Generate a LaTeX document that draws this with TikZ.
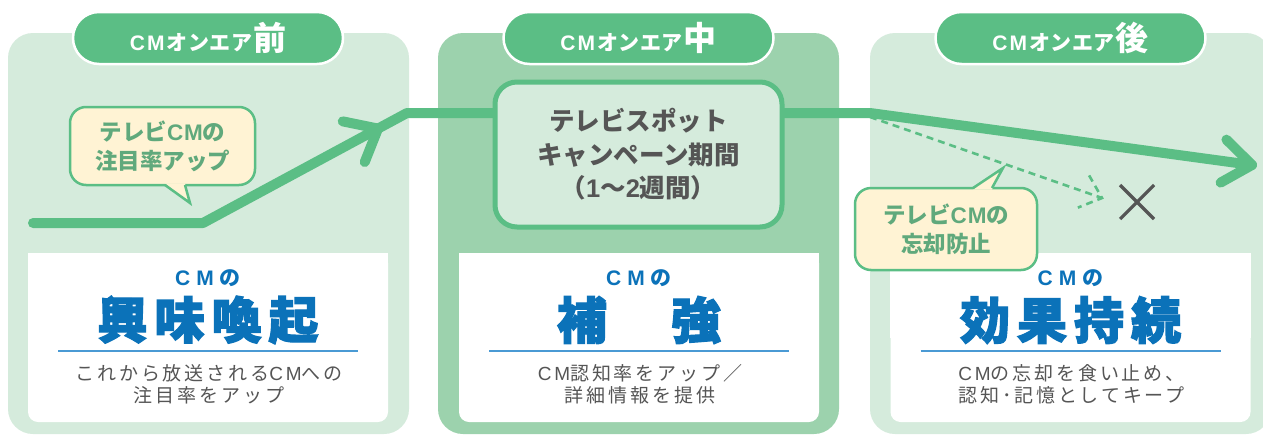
\documentclass[tikz,border=0pt]{standalone}
\usepackage{fontspec}
\setmainfont{Noto Sans CJK JP}
\newfontfamily\jpls[LetterSpace=15]{Noto Sans CJK JP}
\newfontfamily\jpheavy[BoldFeatures={FakeBold=2.5}]{Noto Sans CJK JP}
\newfontfamily\lat{Liberation Sans}
\newfontfamily\latls[LetterSpace=15]{Liberation Sans}
\usetikzlibrary{calc}
\definecolor{panelL}{HTML}{D5EBDC}
\definecolor{panelM}{HTML}{9CD2AD}
\definecolor{grn}{HTML}{5BBE85}
\definecolor{cream}{HTML}{FFF3D4}
\definecolor{calltxt}{HTML}{60A97C}
\definecolor{blu}{HTML}{0B72B9}
\definecolor{bline}{HTML}{4A9AD4}
\definecolor{gry}{HTML}{555555}
\tikzset{
  panel/.style={rounded corners=25pt, minimum width=401pt, minimum height=401pt, inner sep=0pt},
  tab/.style={rounded corners=26pt, minimum width=270pt, minimum height=52pt, inner sep=0pt,
    fill=grn, draw=white, line width=2.5pt, text=white, font=\bfseries},
  wbox/.style={rounded corners=10pt, minimum width=360pt, minimum height=169pt, inner sep=0pt, fill=white},
  cmno/.style={text=blu, font=\bfseries\fontsize{21}{21}\selectfont, inner sep=0pt},
  bigtxt/.style={text=blu, font=\jpheavy\bfseries\fontsize{50}{50}\selectfont, inner sep=0pt},
  desc/.style={text=gry, font=\jpls\fontsize{19}{22}\selectfont, align=center, inner sep=0pt},
  uline/.style={draw=bline, line width=1.6pt},
  mainline/.style={draw=grn, line width=10pt, line cap=round, line join=round},
  dashline/.style={draw=grn, line width=2.6pt, dash pattern=on 7pt off 5pt},
  midbox/.style={rounded corners=22pt, minimum width=287pt, minimum height=145pt, inner sep=0pt,
    fill=panelL, draw=grn, line width=5pt, text=gry, align=center,
    font=\bfseries\fontsize{25.5}{33.5}\selectfont},
  callout/.style={rounded corners=16pt, inner sep=0pt, fill=cream, draw=grn, line width=2.5pt,
    text=calltxt, align=center, font=\bfseries\fontsize{22.5}{29}\selectfont},
  callside/.style={draw=grn, line width=2.5pt, line join=miter},
  xmark/.style={draw=gry, line width=3.2pt}
}
\newcommand\tabtext[1]{{\fontsize{21}{21}\selectfont{\lat C\kern2pt M\kern2pt}オ\kern0.5pt ン\kern0.5pt エ\kern0.5pt ア\kern1pt}{\fontsize{33}{33}\selectfont #1}}
\newcommand\CMb{{\lat C\kern1pt M}}
\newcommand\CMd{{\latls CM}}
\begin{document}
\begin{tikzpicture}[x=1pt,y=-1pt]
\useasboundingbox (0,0) rectangle (1263,434);
\fill[white] (0,0) rectangle (1263,434);

% panels
\node[panel, fill=panelL] (p1) at (208.5,233.5) {};
\node[panel, fill=panelM] (p2) at (638.5,233.5) {};
\node[panel, fill=panelL] (p3) at (1070.5,233.5) {};

% tabs
\node[tab] (t1) at (208,38) {\tabtext{前}};
\node[tab] (t2) at (638.5,38) {\tabtext{中}};
\node[tab] (t3) at (1070.5,38) {\tabtext{後}};

% white boxes
\node[wbox] (w1) at (208,337.5) {};
\node[wbox] (w2) at (639,337.5) {};
\node[wbox] (w3) at (1070.5,337.5) {};
\foreach \w in {w1,w2,w3}{
  \fill[white] (\w.north west) rectangle (\w.east);
  \draw[uline] ($(\w.center)+(-150,13.5)$) -- ($(\w.center)+(150,13.5)$);
}

% texts in white boxes
\node[cmno] (n1) at (208,278) {{\lat C\kern6pt M}\kern6pt の};
\node[cmno] (n2) at (639,278) {{\lat C\kern6pt M}\kern6pt の};
\node[cmno] (n3) at (1070.5,278) {{\lat C\kern6pt M}\kern6pt の};
\node[bigtxt] (b1) at (208,320) {興\kern7pt 味\kern7pt 喚\kern7pt 起};
\node[bigtxt] (b2) at (639,320) {補\kern7pt 　\kern7pt 強};
\node[bigtxt] (b3) at (1070.5,320) {効\kern7pt 果\kern7pt 持\kern7pt 続};
\node[desc] (d1) at (209,384.5) {これから放送される\CMd への\\注目率をアップ};
\node[desc] (d2) at (640,384.5) {\CMd 認知率をアップ／\\詳細情報を提供};
\node[desc] (d3) at (1071.5,384.5) {\CMd の忘却を食い止め、\\認知･記憶としてキープ};

% main line
\coordinate (s0) at (33,223);
\coordinate (s1) at (203,223);
\coordinate (s2) at (407,113);
\coordinate (s3) at (870,113);
\coordinate (s4) at (1252,165);
\coordinate (chevL) at (378,128.6);
\draw[mainline] (s0) -- (s1) -- (s2) -- (s3) -- (s4);
\draw[mainline] ($(chevL)+(191.6:36)$) -- (chevL) -- ($(chevL)+(111.6:36)$);
\draw[mainline] ($(s4)+(224.75:36)$) -- (s4) -- ($(s4)+(150.75:36)$);

% dashed line
\coordinate (q0) at (870,117);
\coordinate (q1) at (1102,198);
\draw[dashline] (q0) -- (q1);
\draw[dashline] ($(q1)+(240.25:26)$) -- (q1) -- ($(q1)+(158.25:26)$);

% X mark
\coordinate (xc) at (1137,202);
\draw[xmark] ($(xc)+(-17,-17)$) -- ($(xc)+(17,17)$);
\draw[xmark] ($(xc)+(17,-17)$) -- ($(xc)+(-17,17)$);

% middle box
\node[midbox] (mb) at (638.5,154.5) {テレビスポット\\キャンペーン期間\\（{\lat 1}〜{\lat 2}週間）};

% callouts
\node[callout, minimum width=185pt, minimum height=78pt] (c1) at (162.5,146) {テレビ\CMb の\\注目率アップ};
\coordinate (c1tip) at (190,203);
\fill[cream] (165,183.4) -- (c1tip) -- (185,183.4) -- cycle;
\draw[callside] (165,185) -- (c1tip) -- (185,185);

\node[callout, minimum width=182pt, minimum height=82pt] (c2) at (946,229) {テレビ\CMb の\\忘却防止};
\coordinate (c2tip) at (1003,168);
\fill[cream] (973,189.6) -- (c2tip) -- (992,189.6) -- cycle;
\draw[callside] (973,188) -- (c2tip) -- (992,188);
\end{tikzpicture}
\end{document}
